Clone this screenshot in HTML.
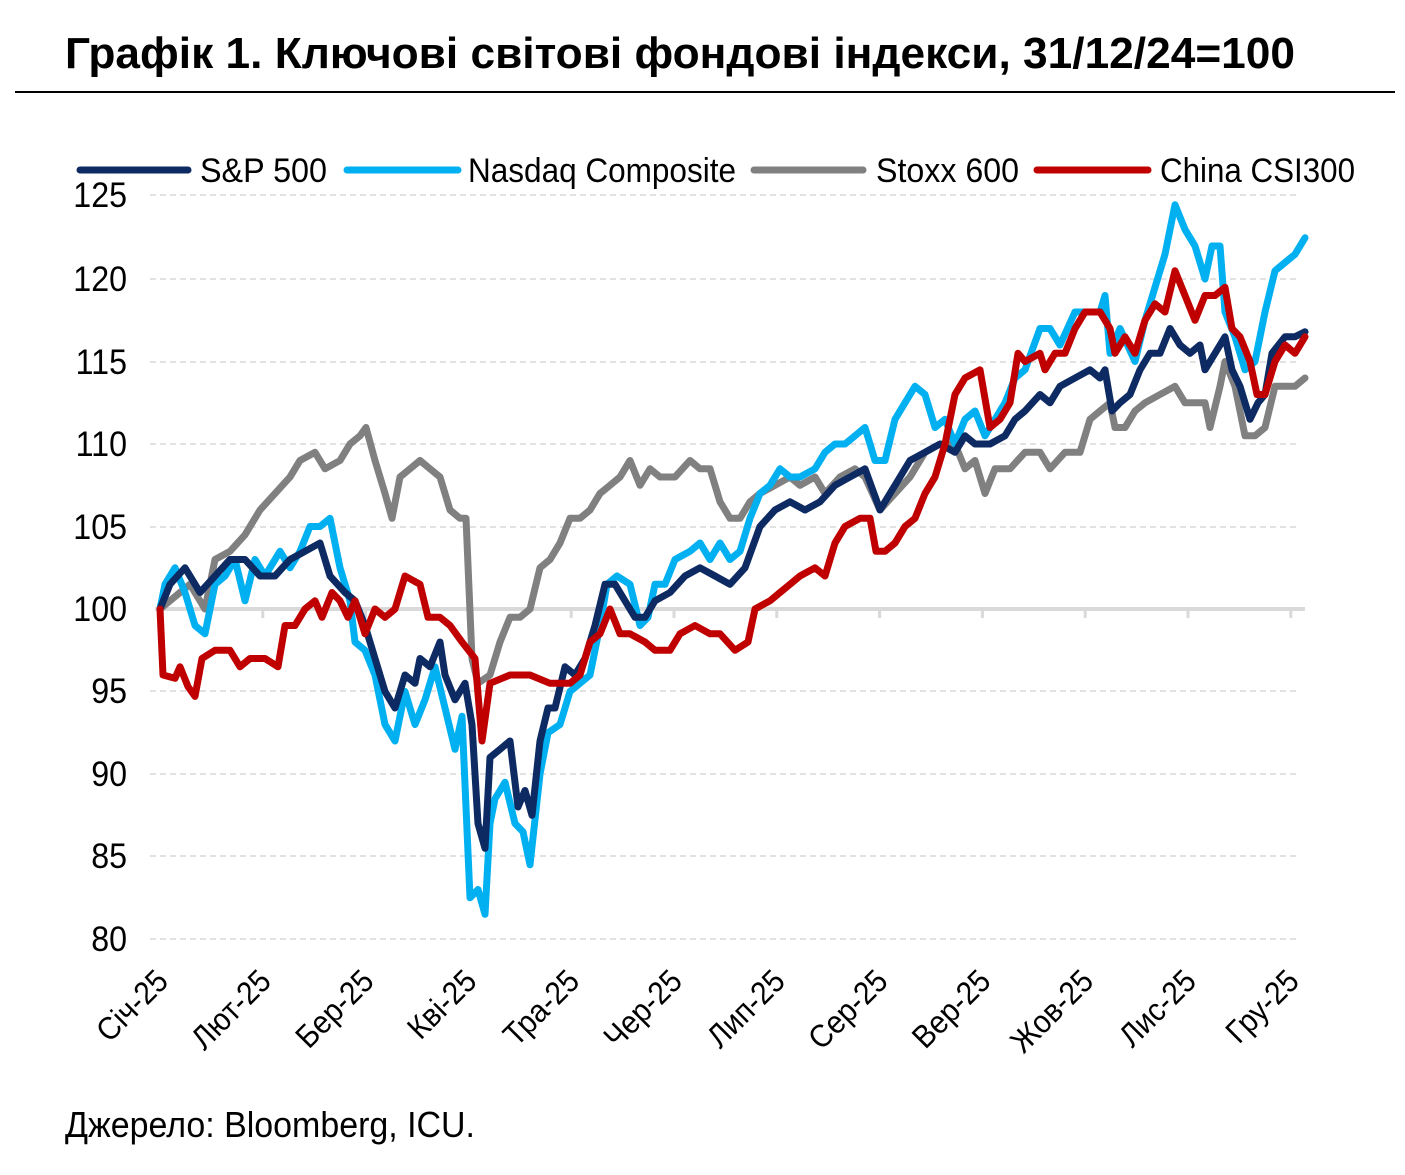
<!DOCTYPE html>
<html><head><meta charset="utf-8"><style>
html,body{margin:0;padding:0;background:#fff;}
svg{display:block;font-family:"Liberation Sans",sans-serif;}
</style></head><body>
<svg id="s" width="1405" height="1175" viewBox="0 0 1405 1175" xmlns="http://www.w3.org/2000/svg">
<text x="65" y="68" font-size="44" font-weight="bold" textLength="1230" lengthAdjust="spacingAndGlyphs">Графік 1. Ключові світові фондові індекси, 31/12/24=100</text>
<line x1="15" y1="92" x2="1395" y2="92" stroke="#000" stroke-width="2"/>
<g stroke="#d9d9d9" stroke-width="1.5" stroke-dasharray="6,4">
<line x1="150" x2="1300" y1="195" y2="195"/><line x1="150" x2="1300" y1="279" y2="279"/>
<line x1="150" x2="1300" y1="362" y2="362"/><line x1="150" x2="1300" y1="444" y2="444"/>
<line x1="150" x2="1300" y1="527" y2="527"/><line x1="150" x2="1300" y1="691" y2="691"/>
<line x1="150" x2="1300" y1="774" y2="774"/><line x1="150" x2="1300" y1="856" y2="856"/>
<line x1="150" x2="1300" y1="939" y2="939"/>
</g>
<line x1="155" x2="1305" y1="609" y2="609" stroke="#d9d9d9" stroke-width="4"/>
<g id="ticks" stroke="#d9d9d9" stroke-width="3"></g>
<g font-size="35" text-anchor="end" transform="translate(127,0) scale(0.92,1) translate(-127,0)">
<text x="127" y="207">125</text><text x="127" y="291">120</text><text x="127" y="374">115</text>
<text x="127" y="456">110</text><text x="127" y="539">105</text><text x="127" y="621">100</text>
<text x="127" y="703">95</text><text x="127" y="786">90</text><text x="127" y="868">85</text>
<text x="127" y="951">80</text>
</g>
<g id="xl" font-size="32" text-anchor="end"></g>
<g id="lines" fill="none" stroke-width="7" stroke-linejoin="round" stroke-linecap="round"></g>
<g stroke-width="7" stroke-linecap="round">
<line x1="80" x2="188" y1="170" y2="170" stroke="#0d2a63"/>
<line x1="347" x2="458" y1="170" y2="170" stroke="#00b0f0"/>
<line x1="754" x2="863" y1="170" y2="170" stroke="#808080"/>
<line x1="1037" x2="1148" y1="170" y2="170" stroke="#c00000"/>
</g>
<g font-size="34">
<text x="200" y="182" textLength="127" lengthAdjust="spacingAndGlyphs">S&amp;P 500</text>
<text x="468" y="182" textLength="268" lengthAdjust="spacingAndGlyphs">Nasdaq Composite</text>
<text x="876" y="182" textLength="143" lengthAdjust="spacingAndGlyphs">Stoxx 600</text>
<text x="1160" y="182" textLength="195" lengthAdjust="spacingAndGlyphs">China CSI300</text>
</g>
<text x="65" y="1137" font-size="36" textLength="410" lengthAdjust="spacingAndGlyphs">Джерело: Bloomberg, ICU.</text>
</svg>
<script>
var NS="http://www.w3.org/2000/svg";
function y(v){return 609-(v-100)*16.5;}
var months=["Січ-25","Лют-25","Бер-25","Кві-25","Тра-25","Чер-25","Лип-25","Сер-25","Вер-25","Жов-25","Лис-25","Гру-25"];
var xl=document.getElementById("xl"),tk=document.getElementById("ticks");
for(var i=0;i<12;i++){var x=160+i*102.8;
 if(i>0){var l=document.createElementNS(NS,"line");l.setAttribute("x1",x);l.setAttribute("x2",x);l.setAttribute("y1",609);l.setAttribute("y2",618);tk.appendChild(l);}
 var t=document.createElementNS(NS,"text");t.setAttribute("transform","translate("+(x+10)+",983) rotate(-45) scale(0.92,1)");t.textContent=months[i];xl.appendChild(t);}
var sp=[160,100,170,101.5,185,102.5,200,101,215,102,230,103,245,103,260,102,275,102,290,103,305,103.5,320,104,330,102,345,101,355,100.5,365,99,375,97,385,95,395,94,405,96,415,95.5,420,97,430,96.5,440,98,445,96,455,94.5,465,95.5,472,93,478,87,485,85.5,490,91,500,91.5,510,92,518,88,525,89,532,87.5,540,92,548,94,555,94,565,96.5,575,96,585,97,595,99,605,101.5,615,101.5,625,100.5,635,99.5,645,99.5,655,100.5,670,101,685,102,700,102.5,715,102,730,101.5,745,102.5,760,105,775,106,790,106.5,805,106,820,106.5,835,107.5,850,108,865,108.5,880,106,895,107.5,910,109,925,109.5,940,110,955,109.5,965,110.5,975,110,990,110,1005,110.5,1015,111.5,1025,112,1040,113,1050,112.5,1060,113.5,1075,114,1090,114.5,1100,114,1105,114.5,1112,112,1120,112.5,1130,113,1140,114.5,1150,115.5,1160,115.5,1170,117,1180,116,1190,115.5,1200,116,1205,114.5,1215,115.5,1225,116.5,1232,114.5,1240,113.5,1250,111.5,1258,112.5,1265,113,1272,115.5,1285,116.5,1295,116.5,1305,116.8];
var nq=[160,100,165,101.5,175,102.5,185,101,195,99,205,98.5,215,101.5,225,102,235,103,245,100.5,255,103,265,102,280,103.5,290,102.5,300,103.5,310,105,320,105,330,105.5,340,102.5,350,100.5,355,98,365,97.5,375,96,385,93,395,92,405,95,415,93,425,94.5,435,96.5,445,94,455,91.5,462,93.5,470,82.5,478,83,485,81.5,490,87,495,88.5,505,89.5,515,87,523,86.5,530,84.5,540,90,548,92.5,560,93,570,95,580,95.5,590,96,600,99,607,101.5,617,102,630,101.5,640,99,648,99.5,655,101.5,665,101.5,675,103,690,103.5,700,104,710,103,720,104,730,103,740,103.5,750,105.5,760,107,770,107.5,780,108.5,790,108,800,108,815,108.5,825,109.5,835,110,845,110,855,110.5,865,111,875,109,885,109,895,111.5,905,112.5,915,113.5,925,113,935,111,945,111.5,955,110,965,111.5,975,112,985,110.5,995,111.5,1005,112.5,1015,114,1025,114.5,1040,117,1050,117,1060,116,1075,118,1090,118,1100,118,1105,119,1110,115.5,1120,117,1135,115,1145,117.5,1155,119.5,1165,121.5,1175,124.5,1185,123,1195,122,1205,120,1212,122,1220,122,1225,118,1235,116.5,1245,114.5,1255,115,1265,118,1275,120.5,1285,121,1295,121.5,1305,122.5];
var sx=[160,100,170,100.5,180,101,190,101.5,200,100.5,205,100,215,103,230,103.5,245,104.5,260,106,275,107,290,108,300,109,315,109.5,325,108.5,340,109,350,110,360,110.5,366,111,375,109,385,107,392,105.5,400,108,410,108.5,420,109,430,108.5,440,108,450,106,460,105.5,466,105.5,472,97,478,95.5,490,96,500,98,510,99.5,520,99.5,530,100,540,102.5,550,103,560,104,570,105.5,580,105.5,590,106,600,107,610,107.5,620,108,630,109,640,107.5,650,108.5,660,108,675,108,690,109,700,108.5,710,108.5,720,106.5,730,105.5,740,105.5,750,106.5,760,107,775,107.5,790,108,800,107.5,815,108,825,107,840,108,855,108.5,865,108,880,106,895,107,910,108,925,109.5,940,110,955,110,965,108.5,975,109,985,107,995,108.5,1010,108.5,1025,109.5,1040,109.5,1050,108.5,1065,109.5,1080,109.5,1090,111.5,1100,112,1110,112.5,1115,111,1125,111,1135,112,1145,112.5,1160,113,1175,113.5,1185,112.5,1195,112.5,1205,112.5,1210,111,1220,113.5,1225,115,1235,113.5,1245,110.5,1255,110.5,1265,111,1275,113.5,1285,113.5,1295,113.5,1305,114];
var cs=[160,100,163,96,175,95.8,180,96.5,188,95.3,195,94.7,202,97,215,97.5,230,97.5,240,96.5,250,97,265,97,278,96.5,285,99,295,99,305,100,315,100.5,322,99.5,332,101,340,100.5,348,99.5,355,100.5,365,98.5,375,100,385,99.5,395,100,405,102,420,101.5,428,99.5,440,99.5,450,99,462,98,475,97,482,92,490,95.5,510,96,530,96,550,95.5,570,95.5,580,96,590,98,600,98.5,610,100,620,98.5,630,98.5,645,98,655,97.5,670,97.5,680,98.5,695,99,710,98.5,720,98.5,735,97.5,748,98,755,100,770,100.5,780,101,790,101.5,800,102,815,102.5,825,102,835,104,845,105,860,105.5,870,105.5,876,103.5,885,103.5,895,104,905,105,915,105.5,925,107,935,108,945,110,955,113,965,114,980,114.5,990,111,1000,111.5,1010,112.5,1018,115.5,1025,115,1040,115.5,1045,114.5,1055,115.5,1065,115.5,1075,117,1085,118,1100,118,1110,117,1115,115.5,1125,116.5,1135,115.5,1145,117.5,1155,118.5,1165,118,1175,120.5,1185,119,1195,117.5,1205,119,1215,119,1225,119.5,1232,117,1240,116.5,1250,115,1257,113,1265,113,1275,115,1285,116,1295,115.5,1305,116.5];
var g=document.getElementById("lines");
[[sx,"#808080"],[nq,"#00b0f0"],[sp,"#0d2a63"],[cs,"#c00000"]].forEach(function(s){
 var d=s[0],p=[];for(var i=0;i<d.length;i+=2)p.push(d[i]+","+y(d[i+1]).toFixed(1));
 var pl=document.createElementNS(NS,"polyline");pl.setAttribute("points",p.join(" "));pl.setAttribute("stroke",s[1]);g.appendChild(pl);});
</script>
</body></html>
